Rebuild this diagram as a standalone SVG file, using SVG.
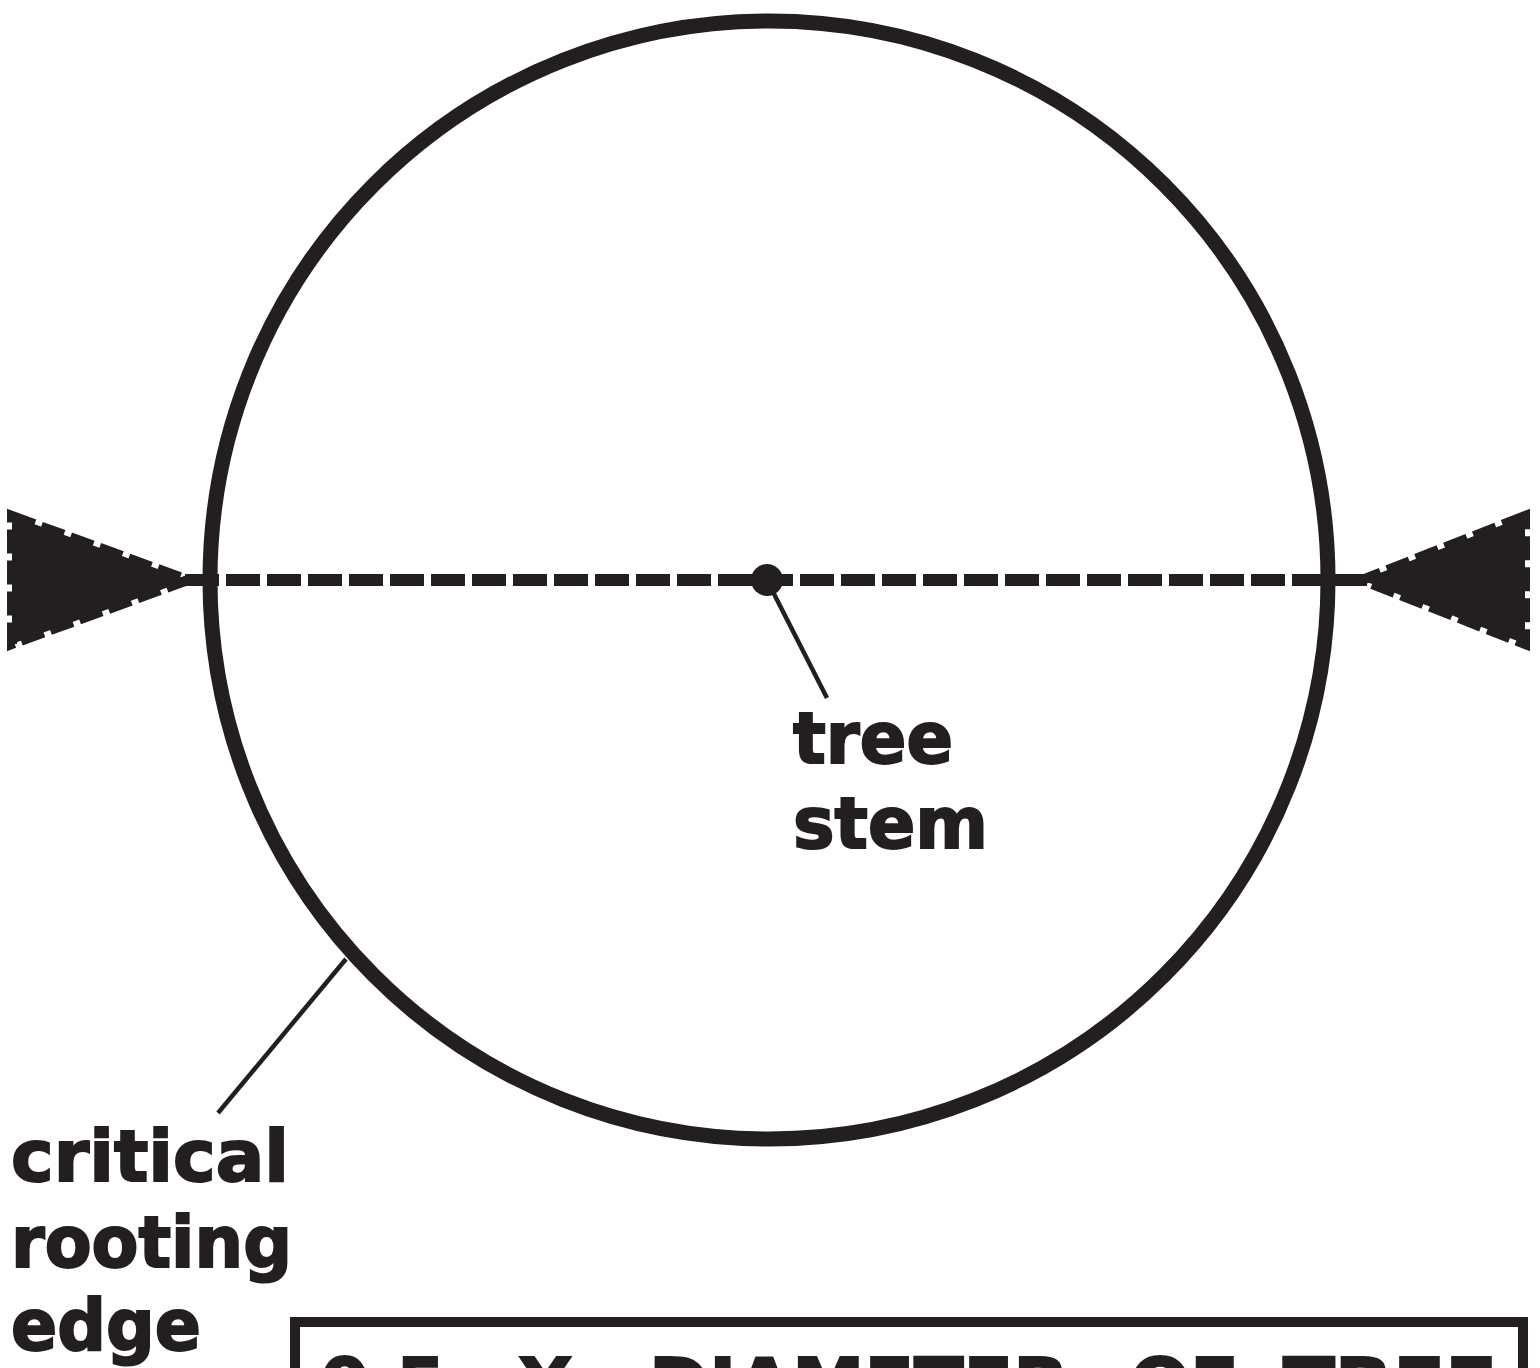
<svg xmlns="http://www.w3.org/2000/svg" width="1540" height="1368" viewBox="0 0 1540 1368">
<style>
.lbl{font-family:"DejaVu Sans","Liberation Sans",sans-serif;font-weight:bold;font-size:71px;fill:#231f20;stroke:#231f20;stroke-width:2}
.ink{stroke:#231f20;fill:none}
.head{fill:#231f20;stroke:#231f20;stroke-width:10;stroke-dasharray:24 7;stroke-linejoin:miter}
</style>
<rect width="1540" height="1368" fill="#fff"/>
<g id="connectors">
<line class="ink" x1="185" y1="580" x2="1370" y2="580" stroke-width="12" stroke-dasharray="34 7"/>
<line class="ink" x1="772" y1="590" x2="827" y2="698" stroke-width="4.5"/>
<line class="ink" x1="346" y1="959" x2="218" y2="1113" stroke-width="4.5"/>
<polygon class="head" points="12,516 188,580 12,644"/>
<polygon class="head" points="1525,516 1362,580 1525,644"/>
</g>
<g id="critical-rooting-edge-circle">
<circle class="ink" cx="769" cy="580" r="559" stroke-width="15"/>
</g>
<g id="tree-stem">
<circle cx="767" cy="580" r="16" fill="#231f20"/>
<text class="lbl" x="793" y="763" textLength="160" lengthAdjust="spacingAndGlyphs">tree</text>
<text class="lbl" x="793" y="848" textLength="195" lengthAdjust="spacingAndGlyphs">stem</text>
</g>
<g id="critical-label">
<text class="lbl" x="11" y="1181" textLength="278" lengthAdjust="spacingAndGlyphs">critical</text>
<text class="lbl" x="11" y="1267" textLength="281" lengthAdjust="spacingAndGlyphs">rooting</text>
<text class="lbl" x="11" y="1350" textLength="190" lengthAdjust="spacingAndGlyphs">edge</text>
</g>
<g id="formula-box">
<rect class="ink" x="295" y="1322" width="1228" height="120" stroke-width="10"/>
<text class="lbl" y="1409"><tspan x="320">0.5</tspan> <tspan x="518">X</tspan> <tspan x="649" textLength="420" lengthAdjust="spacingAndGlyphs">DIAMETER</tspan> <tspan x="1130">OF</tspan> <tspan x="1283" textLength="214" lengthAdjust="spacingAndGlyphs">TREE</tspan></text>
</g>
</svg>
